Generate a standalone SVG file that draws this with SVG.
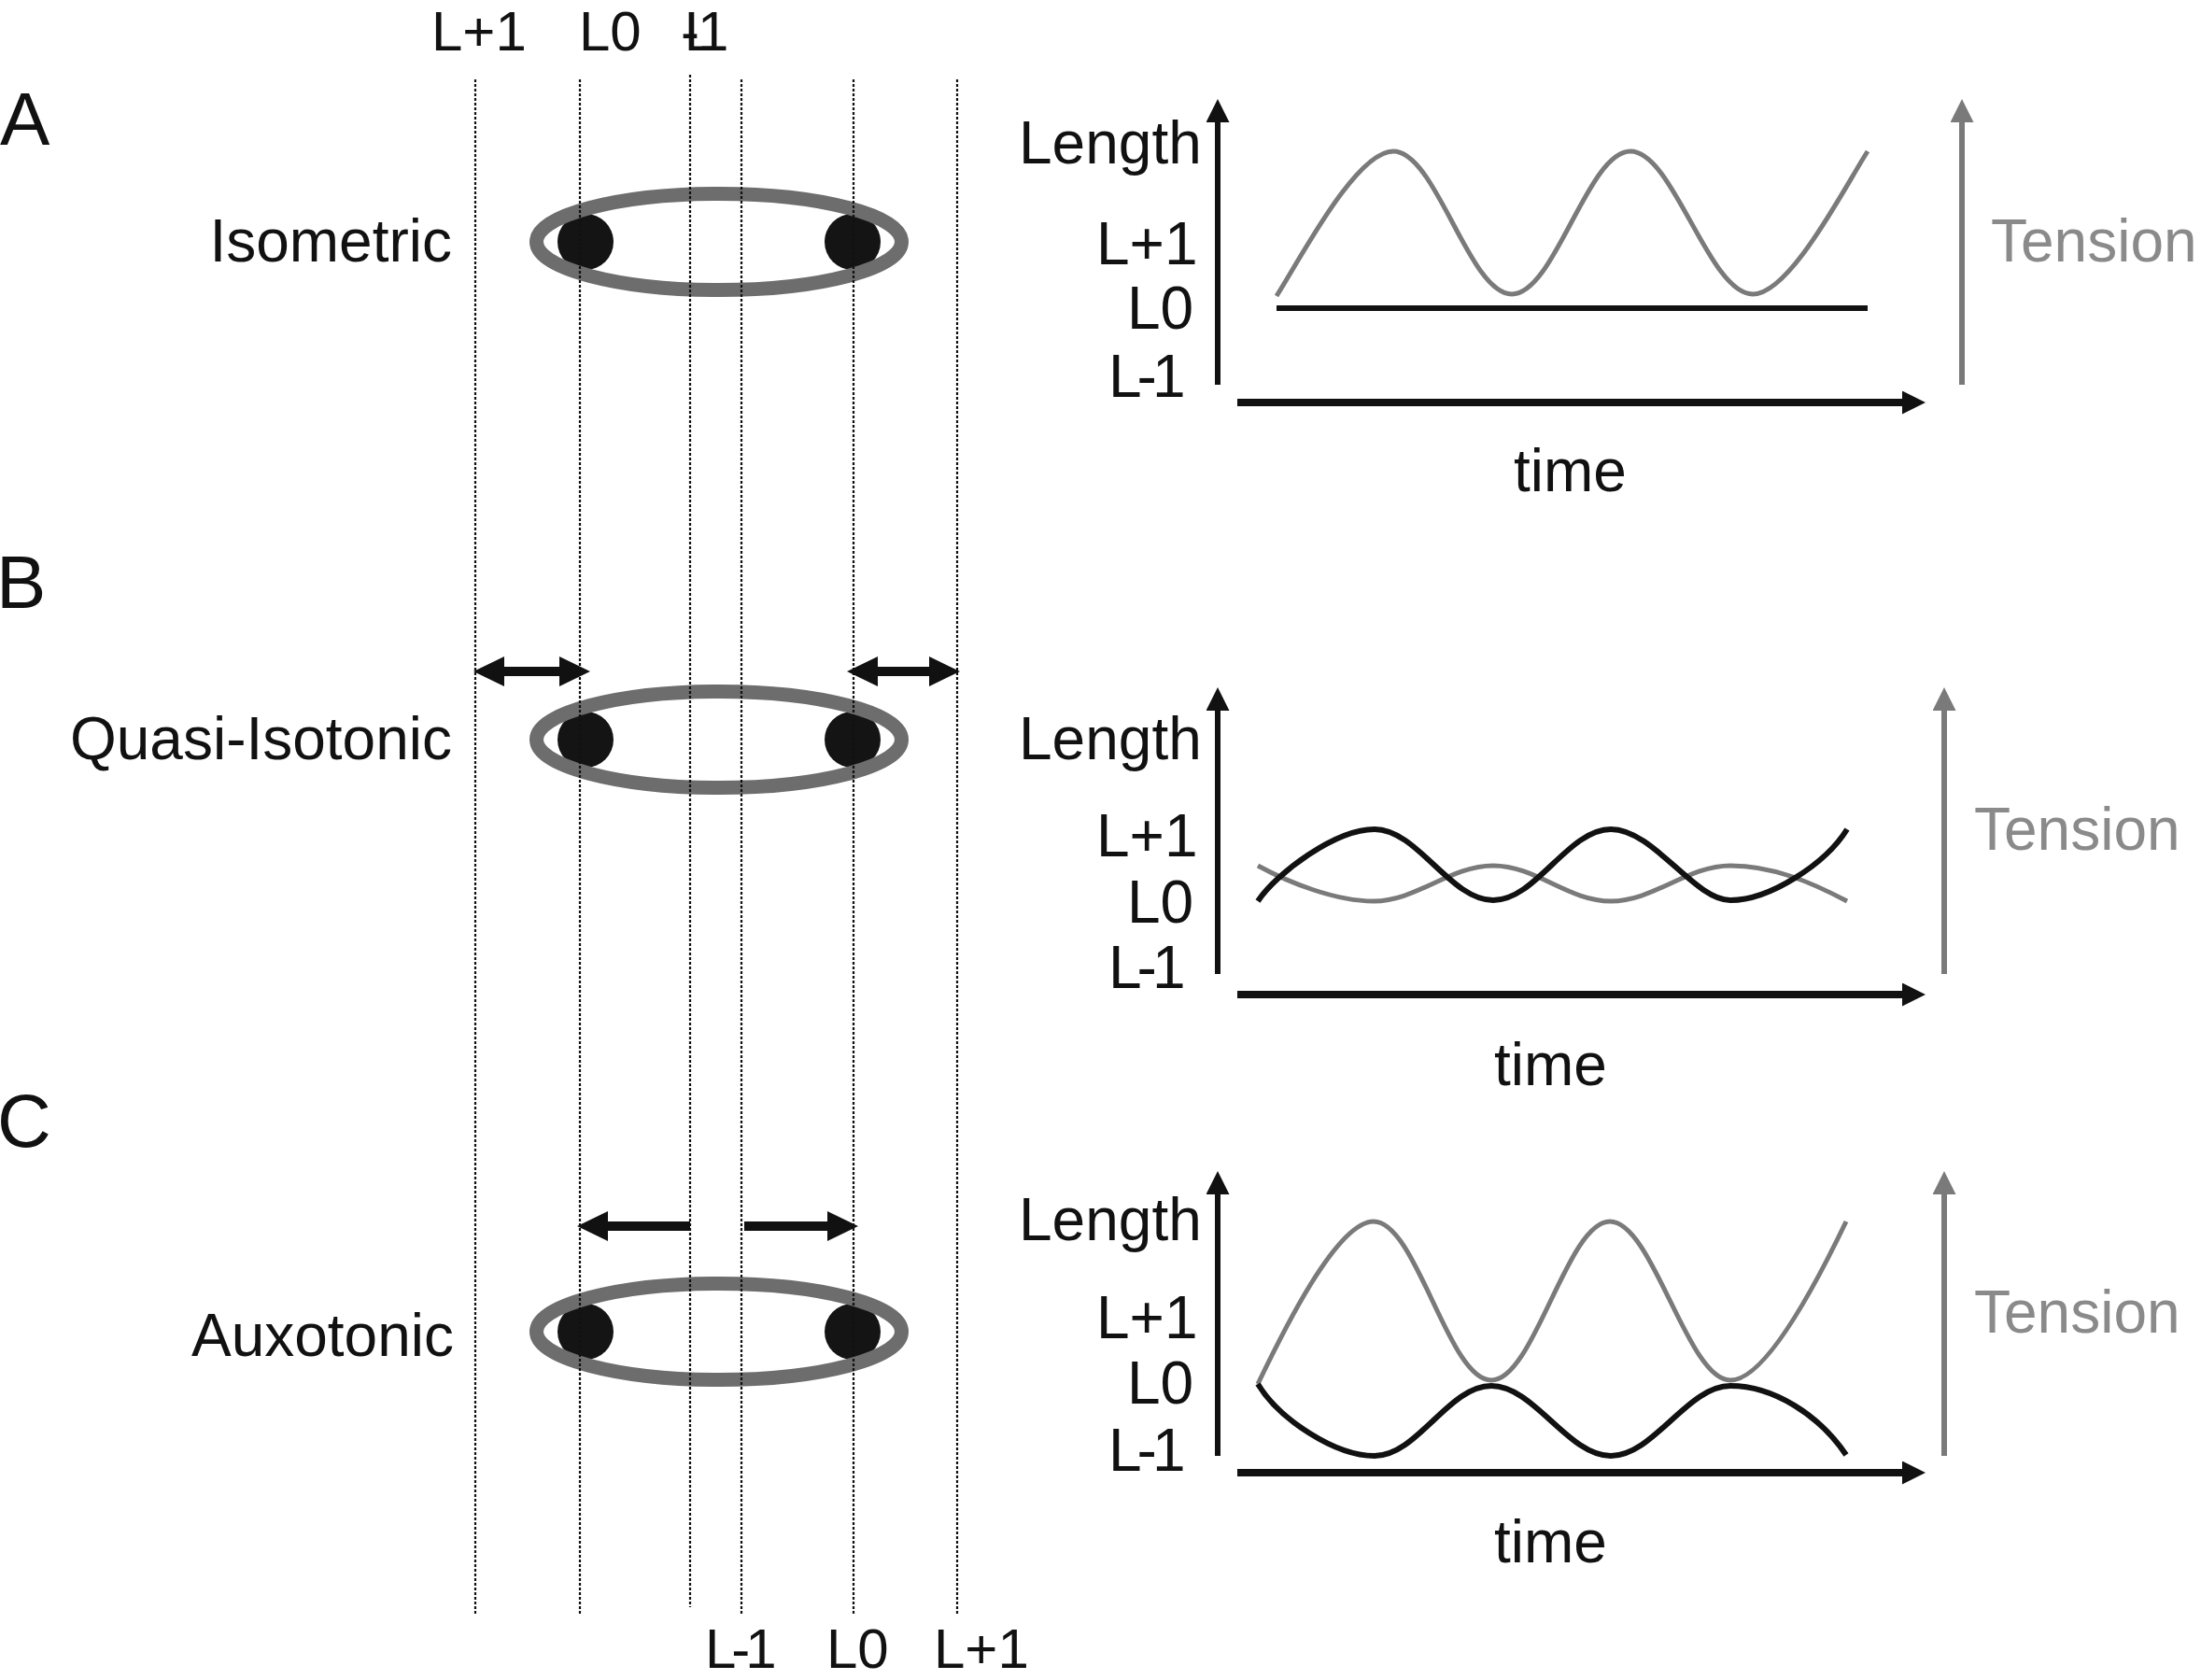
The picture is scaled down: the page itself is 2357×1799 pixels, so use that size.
<svg xmlns="http://www.w3.org/2000/svg" width="2357" height="1799" viewBox="0 0 2357 1799">
<style>
text{font-family:"Liberation Sans",Arial,sans-serif;font-size:64px;fill:#111}
.panel{font-size:80px}
.edge{font-size:60px}
.tens{fill:#8a8a8a}
.tight{letter-spacing:-5px}
.guide{stroke:#111;stroke-width:2.2;stroke-dasharray:3,2;fill:none}
.ring{fill:none;stroke:#6d6d6d;stroke-width:15}
.dot{fill:#141414}
.axis{stroke:#111;stroke-width:6;fill:none;marker-end:url(#ah)}
.axisg{stroke:#7a7a7a;stroke-width:6;fill:none;marker-end:url(#ahg)}
.taxis{stroke:#111;stroke-width:8;fill:none;marker-end:url(#ah)}
.dbl{stroke:#111;stroke-width:10;fill:none}
.cg{stroke:#7a7a7a;stroke-width:5;fill:none}
.cb{stroke:#111;stroke-width:6;fill:none}
</style>
<defs>
<marker id="ah" markerUnits="userSpaceOnUse" viewBox="0 0 25 25" markerWidth="25" markerHeight="25" refX="1" refY="12.5" orient="auto"><path d="M0,0 L25,12.5 L0,25 z" fill="#111"/></marker>
<marker id="ahg" markerUnits="userSpaceOnUse" viewBox="0 0 25 25" markerWidth="25" markerHeight="25" refX="1" refY="12.5" orient="auto"><path d="M0,0 L25,12.5 L0,25 z" fill="#7a7a7a"/></marker>
<marker id="ahb" markerUnits="userSpaceOnUse" viewBox="0 0 33 32" markerWidth="33" markerHeight="32" refX="1" refY="16" orient="auto-start-reverse"><path d="M0,0 L33,16 L0,32 z" fill="#111"/></marker>
</defs>

<g id="panel-labels">
<text class="panel" x="0" y="155">A</text>
<text class="panel" x="-4" y="651">B</text>
<text class="panel" x="-3" y="1228">C</text>
</g>

<g id="mode-labels">
<text x="484" y="280" text-anchor="end">Isometric</text>
<text x="484" y="813" text-anchor="end">Quasi-Isotonic</text>
<text x="486" y="1452" text-anchor="end">Auxotonic</text>
</g>

<g id="muscle-A">
<circle class="dot" cx="627" cy="259" r="30"/>
<circle class="dot" cx="913" cy="259" r="30"/>
<ellipse class="ring" cx="770" cy="259" rx="195.5" ry="51.5"/>
</g>
<g id="muscle-B">
<circle class="dot" cx="627" cy="792" r="30"/>
<circle class="dot" cx="913" cy="792" r="30"/>
<ellipse class="ring" cx="770" cy="792" rx="195.5" ry="51.5"/>
</g>
<g id="muscle-C">
<circle class="dot" cx="627" cy="1426" r="30"/>
<circle class="dot" cx="913" cy="1426" r="30"/>
<ellipse class="ring" cx="770" cy="1426" rx="195.5" ry="51.5"/>
</g>

<g id="guides">
<line class="guide" x1="509" y1="85" x2="509" y2="1728"/>
<line class="guide" x1="621" y1="85" x2="621" y2="1728"/>
<line class="guide" x1="739" y1="80" x2="739" y2="1721"/>
<line class="guide" x1="794" y1="85" x2="794" y2="1728"/>
<line class="guide" x1="914" y1="85" x2="914" y2="1728"/>
<line class="guide" x1="1025" y1="85" x2="1025" y2="1728"/>
</g>

<g id="top-labels">
<text class="edge" x="462" y="54">L+1</text>
<text class="edge" x="620" y="54">L0</text>
<text class="edge" x="729" y="54" dx="0 -37 -2">L-1</text>
</g>
<g id="bottom-labels">
<text class="edge tight" x="755" y="1786">L-1</text>
<text class="edge" x="885" y="1786">L0</text>
<text class="edge" x="1000" y="1786">L+1</text>
</g>

<g id="connectors">
<line class="dbl" x1="539" y1="719" x2="600" y2="719" marker-start="url(#ahb)" marker-end="url(#ahb)"/>
<line class="dbl" x1="939" y1="719" x2="996" y2="719" marker-start="url(#ahb)" marker-end="url(#ahb)"/>
<line class="dbl" x1="739" y1="1313" x2="650" y2="1313" marker-end="url(#ahb)"/>
<line class="dbl" x1="797" y1="1313" x2="887" y2="1313" marker-end="url(#ahb)"/>
</g>

<g id="graph-A">
<line class="axis" x1="1304" y1="412" x2="1304" y2="130"/>
<line class="axisg" x1="2101" y1="412" x2="2101" y2="130"/>
<line class="taxis" x1="1325" y1="431" x2="2038" y2="431"/>
<text x="1091" y="175">Length</text>
<text x="1174" y="283">L+1</text>
<text x="1207" y="352">L0</text>
<text class="tight" x="1187" y="425">L-1</text>
<text class="tens" x="2132" y="280">Tension</text>
<text x="1621" y="526">time</text>
<path class="cg" d="M1367,317 C1392,278 1452,162 1492,162 C1538,162 1573,315 1619,315 C1665,315 1700,162 1746,162 C1792,162 1830,315 1877,315 C1917,315 1975,201 2000,162"/>
<line class="cb" x1="1367" y1="330" x2="2000" y2="330"/>
</g>

<g id="graph-B">
<line class="axis" x1="1304" y1="1043" x2="1304" y2="760"/>
<line class="axisg" x1="2082" y1="1043" x2="2082" y2="760"/>
<line class="taxis" x1="1325" y1="1065" x2="2038" y2="1065"/>
<text x="1091" y="813">Length</text>
<text x="1174" y="917">L+1</text>
<text x="1207" y="988">L0</text>
<text class="tight" x="1187" y="1058">L-1</text>
<text class="tens" x="2114" y="910">Tension</text>
<text x="1600" y="1162">time</text>
<path class="cg" d="M1347,927 C1380,945 1430,965 1471,965 C1517,965 1553,927 1599,927 C1645,927 1679,965 1725,965 C1771,965 1807,927 1853,927 C1899,927 1940,945 1978,965"/>
<path class="cb" d="M1347,965 C1367,935 1430,888 1472,888 C1518,888 1553,964 1599,964 C1645,964 1679,888 1725,888 C1771,888 1814,964 1853,964 C1895,964 1955,925 1978,888"/>
</g>

<g id="graph-C">
<line class="axis" x1="1304" y1="1559" x2="1304" y2="1278"/>
<line class="axisg" x1="2082" y1="1559" x2="2082" y2="1278"/>
<line class="taxis" x1="1325" y1="1577" x2="2038" y2="1577"/>
<text x="1091" y="1328">Length</text>
<text x="1174" y="1433">L+1</text>
<text x="1207" y="1503">L0</text>
<text class="tight" x="1187" y="1575">L-1</text>
<text class="tens" x="2114" y="1427">Tension</text>
<text x="1600" y="1673">time</text>
<path class="cg" d="M1347,1482 C1372,1430 1431,1308 1471,1308 C1517,1308 1551,1478 1597,1478 C1643,1478 1678,1308 1724,1308 C1770,1308 1807,1478 1853,1478 C1893,1478 1952,1360 1977,1308"/>
<path class="cb" d="M1347,1482 C1370,1520 1430,1559 1472,1559 C1518,1559 1551,1484 1597,1484 C1643,1484 1679,1559 1725,1559 C1771,1559 1807,1484 1853,1484 C1899,1484 1948,1515 1977,1558"/>
</g>
</svg>
